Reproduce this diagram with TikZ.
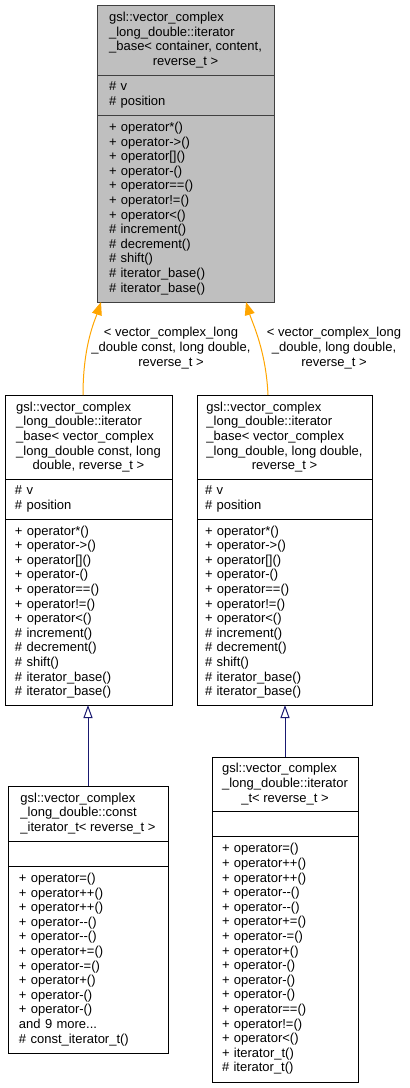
\documentclass[tikz,border=0pt]{standalone}
\usepackage{fontspec}
\setmainfont{Liberation Sans}
\usetikzlibrary{positioning,arrows.meta}
\definecolor{instorange}{HTML}{FFA500}
\definecolor{inhblue}{HTML}{191970}
\definecolor{basefill}{HTML}{BFBFBF}
\definecolor{baseframe}{HTML}{404040}
\newcommand{\umlfont}{\fontsize{13}{14.6}\selectfont}
\tikzset{
	>={Triangle[length=13pt,width=10pt]}
}

\begin{document}
\begin{tikzpicture}[
x = 1pt, y = -1pt,
every node/.style = {
	font = \umlfont,
},
classhead/.style = {
	draw, rectangle,
	outer sep = 0pt, inner sep = 0pt,
	align = left,
	line width = 1pt,
},
classbody/.style = {classhead, inner xsep = #1},
basepart/.style = {fill = basefill, draw = baseframe},
instance/.style = {->, draw = instorange, line width = 1pt},
inherit/.style = {-{Triangle[open,length=13pt,width=9pt]}, draw = inhblue, line width = 1pt},
edgelabel/.style = {align = center, inner sep = 0pt}
]
\useasboundingbox (0,0) rectangle (410,1088);

% iterator_base< container, content, reverse_t >
\node[classhead, basepart, minimum width = 177pt, minimum height = 70pt, anchor = north west] (baseHead) at (97,5)
	{gsl::vector\_complex\\\_long\_double::iterator\\\_base< container, content,\\\hspace*{\fill}reverse\_t >\hspace*{\fill}};
\node[classbody = 12pt, basepart, text width = 153pt, minimum height = 40pt, below = 0pt of baseHead] (baseAttr)
	{\# v\\\# position};
\node[classbody = 12pt, basepart, text width = 153pt, minimum height = 187pt, below = 0pt of baseAttr] (baseMeth)
	{+ operator*()\\+ operator->()\\+ operator[]()\\+ operator-()\\+ operator==()\\+ operator!=()\\+ operator<()\\\# increment()\\\# decrement()\\\# shift()\\\# iterator\_base()\\\# iterator\_base()};

% iterator_base< vector_complex_long_double const, ... >
\node[classhead, minimum width = 167pt, minimum height = 84pt, anchor = north west] (constBaseHead) at (5,395)
	{gsl::vector\_complex\\\_long\_double::iterator\\\_base< vector\_complex\\\_long\_double const, long\\\hspace*{\fill}double, reverse\_t >\hspace*{\fill}};
\node[classbody = 10pt, text width = 147pt, minimum height = 40pt, below = 0pt of constBaseHead] (constBaseAttr)
	{\# v\\\# position};
\node[classbody = 10pt, text width = 147pt, minimum height = 186pt, below = 0pt of constBaseAttr] (constBaseMeth)
	{+ operator*()\\+ operator->()\\+ operator[]()\\+ operator-()\\+ operator==()\\+ operator!=()\\+ operator<()\\\# increment()\\\# decrement()\\\# shift()\\\# iterator\_base()\\\# iterator\_base()};

% iterator_base< vector_complex_long_double, ... >
\node[classhead, minimum width = 175pt, minimum height = 84pt, anchor = north west] (iterBaseHead) at (197,395)
	{gsl::vector\_complex\\\_long\_double::iterator\\\_base< vector\_complex\\\_long\_double, long double,\\\hspace*{\fill}reverse\_t >\hspace*{\fill}};
\node[classbody = 8pt, text width = 159pt, minimum height = 40pt, below = 0pt of iterBaseHead] (iterBaseAttr)
	{\# v\\\# position};
\node[classbody = 8pt, text width = 159pt, minimum height = 186pt, below = 0pt of iterBaseAttr] (iterBaseMeth)
	{+ operator*()\\+ operator->()\\+ operator[]()\\+ operator-()\\+ operator==()\\+ operator!=()\\+ operator<()\\\# increment()\\\# decrement()\\\# shift()\\\# iterator\_base()\\\# iterator\_base()};

% const_iterator_t< reverse_t >
\node[classhead, minimum width = 160pt, minimum height = 55pt, anchor = north west] (constIterHead) at (8,786)
	{gsl::vector\_complex\\\_long\_double::const\\\hspace*{\fill}\_iterator\_t< reverse\_t >\hspace*{\fill}};
\node[classbody = 11pt, text width = 138pt, minimum height = 25pt, below = 0pt of constIterHead] (constIterAttr) {};
\node[classbody = 11pt, text width = 138pt, minimum height = 187pt, below = 0pt of constIterAttr] (constIterMeth)
	{+ operator=()\\+ operator++()\\+ operator++()\\+ operator-{}-()\\+ operator-{}-()\\+ operator+=()\\+ operator-=()\\+ operator+()\\+ operator-()\\+ operator-()\\and 9 more...\\\# const\_iterator\_t()};

% iterator_t< reverse_t >
\node[classhead, minimum width = 146pt, minimum height = 54pt, anchor = north west] (iterHead) at (212,757)
	{gsl::vector\_complex\\\_long\_double::iterator\\\hspace*{\fill}\_t< reverse\_t >\hspace*{\fill}};
\node[classbody = 10pt, text width = 126pt, minimum height = 25pt, below = 0pt of iterHead] (iterAttr) {};
\node[classbody = 10pt, text width = 126pt, minimum height = 246pt, below = 0pt of iterAttr] (iterMeth)
	{+ operator=()\\+ operator++()\\+ operator++()\\+ operator-{}-()\\+ operator-{}-()\\+ operator+=()\\+ operator-=()\\+ operator+()\\+ operator-()\\+ operator-()\\+ operator-()\\+ operator==()\\+ operator!=()\\+ operator<()\\+ iterator\_t()\\\# iterator\_t()};

% template arguments
\node[edgelabel] (constArgs) at (171,348)
	{< vector\_complex\_long\\\_double const, long double,\\reverse\_t >};
\node[edgelabel] (iterArgs) at (334,348)
	{< vector\_complex\_long\\\_double, long double,\\reverse\_t >};

\draw[instance] ([xshift=-5.5pt]constBaseHead.north) .. controls +(0,-50) and +(-6,18) .. ([xshift=4pt]baseMeth.south west);
\draw[instance] ([xshift=-16.5pt]iterBaseHead.north) .. controls +(-2,-45) and +(6,20) .. ([xshift=-28pt]baseMeth.south east);

\draw[inherit] (constIterHead.north) -- (constIterHead.north |- constBaseMeth.south);
\draw[inherit] (iterHead.north) -- (iterHead.north |- iterBaseMeth.south);

\end{tikzpicture}
\end{document}
